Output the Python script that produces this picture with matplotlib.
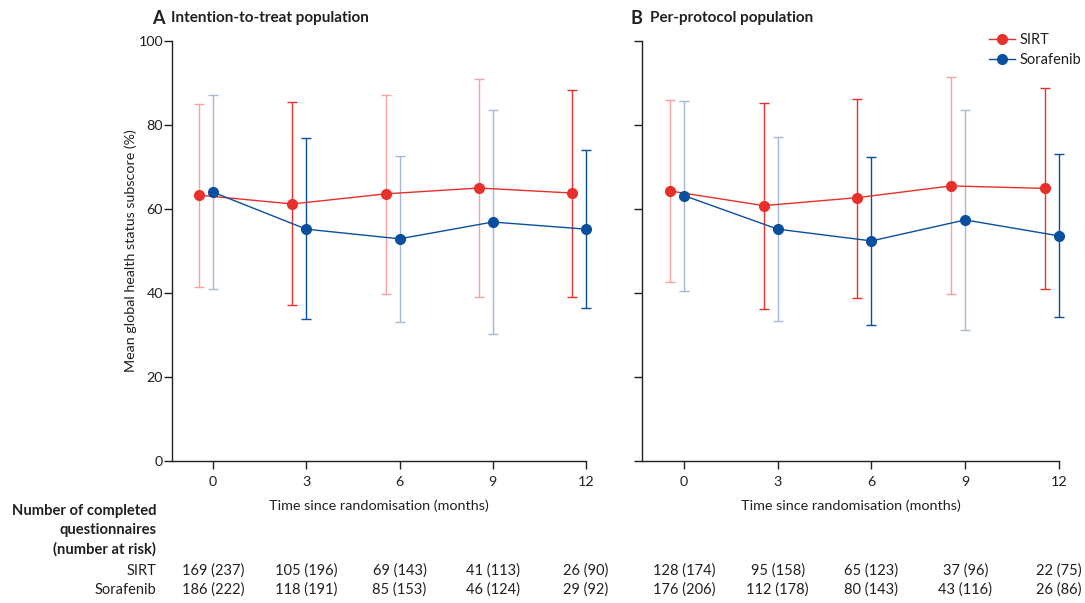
import numpy as np
import matplotlib
matplotlib.use("Agg")
import matplotlib.pyplot as plt

plt.rcParams['font.family'] = ['Lato', 'DejaVu Sans']

months = [0, 3, 6, 9, 12]

# A  intention-to-treat
itt_sirt_mean = [63.3, 61.2, 63.6, 65.0, 63.8]
itt_sirt_low = [41.4, 37.1, 39.8, 39.0, 39.0]
itt_sirt_high = [85.0, 85.5, 87.1, 90.9, 88.3]
itt_sora_mean = [64.0, 55.2, 52.9, 56.9, 55.2]
itt_sora_low = [41.0, 33.8, 33.1, 30.2, 36.4]
itt_sora_high = [87.1, 76.9, 72.6, 83.6, 74.0]

# B  per-protocol
pp_sirt_mean = [64.3, 60.8, 62.7, 65.5, 64.9]
pp_sirt_low = [42.6, 36.2, 38.9, 39.7, 41.0]
pp_sirt_high = [86.0, 85.3, 86.3, 91.4, 88.9]
pp_sora_mean = [63.2, 55.2, 52.4, 57.4, 53.6]
pp_sora_low = [40.5, 33.3, 32.5, 31.1, 34.4]
pp_sora_high = [85.7, 77.1, 72.3, 83.6, 73.0]

# number of completed questionnaires (number at risk)
itt_sirt_n = ["169 (237)", "105 (196)", "69 (143)", "41 (113)", "26 (90)"]
itt_sora_n = ["186 (222)", "118 (191)", "85 (153)", "46 (124)", "29 (92)"]
pp_sirt_n = ["128 (174)", "95 (158)", "65 (123)", "37 (96)", "22 (75)"]
pp_sora_n = ["176 (206)", "112 (178)", "80 (143)", "43 (116)", "26 (86)"]

red = '#e8302a'
red_light = '#f5a3a0'
blue = '#0a4f9e'
blue_light = '#a7b7d6'
txt = '#231f20'
offset = -0.45  # SIRT is drawn a little left of the tick

fig = plt.figure(figsize=(10.85, 6.03), dpi=100)
axA = fig.add_axes([172/1085, 1-461/603, 414/1085, 420/603])
axB = fig.add_axes([642/1085, 1-461/603, 417/1085, 420/603])


def draw(ax, s_mean, s_low, s_high, s_pat, f_mean, f_low, f_high, f_pat, left):
    x = np.array(months, dtype=float)
    for xs, m, lo, hi, pat, dark, light in [
        (x + offset, s_mean, s_low, s_high, s_pat, red, red_light),
        (x, f_mean, f_low, f_high, f_pat, blue, blue_light),
    ]:
        for i in range(len(xs)):
            c = dark if pat[i] else light
            eb = ax.errorbar(xs[i], m[i], yerr=[[m[i]-lo[i]], [hi[i]-m[i]]],
                             fmt='none', ecolor=c, elinewidth=1.0, capsize=3.5, capthick=1.0, zorder=2)
            for a in eb.lines[1] + eb.lines[2]:
                a.set_clip_on(False)
    ax.plot(x + offset, s_mean, color=red, lw=1.0, marker='o', ms=7, mec=red, mfc=red,
            zorder=3, label='SIRT', clip_on=False)
    ax.plot(x, f_mean, color=blue, lw=1.0, marker='o', ms=7, mec=blue, mfc=blue,
            zorder=3, label='Sorafenib', clip_on=False)
    ax.set_xlim(left, 12)
    ax.set_ylim(0, 100)
    ax.set_xticks(months)
    ax.set_yticks([0, 20, 40, 60, 80, 100])
    for sp in ['top', 'right']:
        ax.spines[sp].set_visible(False)
    for sp in ['left', 'bottom']:
        ax.spines[sp].set_linewidth(1.0)
        ax.spines[sp].set_color(txt)
    ax.tick_params(direction='out', length=6, width=1.0, color=txt, labelsize=10.3, labelcolor=txt)
    ax.tick_params(axis='y', pad=0.5)
    ax.tick_params(axis='x', pad=5)
    ax.set_xlabel('Time since randomisation (months)', fontsize=10.4, color=txt, labelpad=8)


draw(axA, itt_sirt_mean, itt_sirt_low, itt_sirt_high, [0, 1, 0, 0, 1],
     itt_sora_mean, itt_sora_low, itt_sora_high, [0, 1, 0, 0, 1], -1.32)
draw(axB, pp_sirt_mean, pp_sirt_low, pp_sirt_high, [0, 1, 1, 0, 1],
     pp_sora_mean, pp_sora_low, pp_sora_high, [0, 0, 1, 0, 1], -1.34)

axA.set_ylabel('Mean global health status subscore (%)', fontsize=10.3, color=txt, labelpad=1)
axB.tick_params(axis='y', labelleft=False)

axB.legend(loc='upper right', bbox_to_anchor=(1.085, 1.05), frameon=False, fontsize=10.5,
           handlelength=1.8, handletextpad=0.3, labelspacing=0.4, labelcolor=txt)

fig.text(152/1085, 1-18/603, 'A', fontsize=13, fontweight='bold', color=txt, va='center')
fig.text(171/1085, 1-18/603, 'Intention-to-treat population', fontsize=11, fontweight='bold', color=txt, va='center')
fig.text(631/1085, 1-18/603, 'B', fontsize=13, fontweight='bold', color=txt, va='center')
fig.text(650/1085, 1-18/603, 'Per-protocol population', fontsize=11, fontweight='bold', color=txt, va='center')

# number-at-risk table
fig.text(156/1085, 1-511/603, 'Number of completed', fontsize=10.6, fontweight='bold', color=txt, ha='right', va='center')
fig.text(156/1085, 1-530/603, 'questionnaires', fontsize=10.6, fontweight='bold', color=txt, ha='right', va='center')
fig.text(156/1085, 1-549/603, '(number at risk)', fontsize=10.6, fontweight='bold', color=txt, ha='right', va='center')
fig.text(156/1085, 1-571/603, 'SIRT', fontsize=10.5, color=txt, ha='right', va='center')
fig.text(156/1085, 1-590/603, 'Sorafenib', fontsize=10.5, color=txt, ha='right', va='center')

for ax, sn, fn in [(axA, itt_sirt_n, itt_sora_n), (axB, pp_sirt_n, pp_sora_n)]:
    for m, a, b in zip(months, sn, fn):
        ax.annotate(a, xy=(m, 1-571/603), xycoords=('data', 'figure fraction'),
                    ha='center', va='center', fontsize=10.5, color=txt, annotation_clip=False)
        ax.annotate(b, xy=(m, 1-590/603), xycoords=('data', 'figure fraction'),
                    ha='center', va='center', fontsize=10.5, color=txt, annotation_clip=False)

fig.savefig('out.png', dpi=100, facecolor='white')
